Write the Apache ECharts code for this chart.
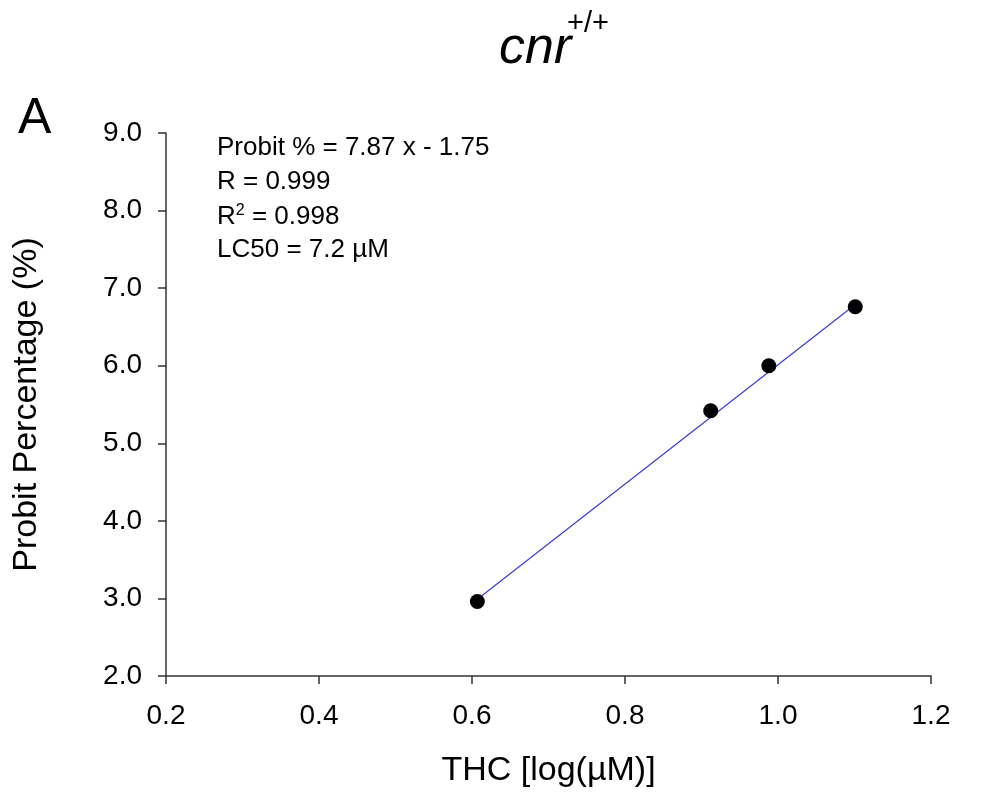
<!DOCTYPE html>
<html>
<head>
<meta charset="utf-8">
<script src="https://cdn.jsdelivr.net/npm/echarts@6/dist/echarts.min.js"></script>
<style>
html,body{margin:0;padding:0;background:#fff;}
#chart{width:984px;height:794px;}
</style>
</head>
<body>
<div id="chart"></div>
<script>
// Data
var thcLog = [0.607, 0.912, 0.988, 1.101];
var probit = [2.96, 5.42, 6.00, 6.76];
var fitX = [0.607, 1.101];
var fitY = [2.99, 6.79];
var xTicks = [0.2, 0.4, 0.6, 0.8, 1.0, 1.2];
var yTicks = [2.0, 3.0, 4.0, 5.0, 6.0, 7.0, 8.0, 9.0];
var annotations = ['Probit % = 7.87 x - 1.75', 'R = 0.999', 'R2 = 0.998', 'LC50 = 7.2 µM'];

var FONT = '"Liberation Sans", Arial, Helvetica, sans-serif';
var chart = echarts.init(document.getElementById('chart'));

var annoGraphics = annotations.map(function (t, i) {
  var txt;
  if (t.indexOf('R2') === 0) {
    txt = '{n|R}{s|2}{n|' + t.slice(2) + '}';
  } else {
    txt = '{n|' + t + '}';
  }
  return {
    type: 'text', left: 217, top: 135 + i * 34,
    style: {
      text: txt, fill: '#000', font: '26px ' + FONT,
      rich: {
        n: { fontSize: 26, fontFamily: FONT, fill: '#000', height: 29 },
        s: { fontSize: 16, fontFamily: FONT, fill: '#000', verticalAlign: 'top', padding: [0, 0, 12, 0], height: 29 }
      }
    }
  };
});

var option = {
  backgroundColor: '#fff',
  animation: false,
  grid: { left: 166, right: 53, top: 133, bottom: 118, containLabel: false, outerBoundsMode: 'none' },
  xAxis: {
    type: 'value', min: 0.2, max: 1.2, interval: 0.2,
    name: 'THC [log(µM)]', nameLocation: 'middle', nameGap: 78,
    nameTextStyle: { fontSize: 34, fontFamily: FONT, color: '#000' },
    axisLine: { show: true, onZero: false, lineStyle: { color: '#333', width: 1.5 } },
    axisTick: { show: true, inside: false, length: 8, lineStyle: { color: '#333', width: 1.5 } },
    axisLabel: { fontSize: 28, fontFamily: FONT, color: '#000', margin: 26,
      formatter: function (v) { return (Math.round(v * 10) / 10).toFixed(1); } },
    splitLine: { show: false }
  },
  yAxis: {
    type: 'value', min: 2, max: 9, interval: 1,
    name: 'Probit Percentage (%)', nameLocation: 'middle', nameGap: 122,
    nameTextStyle: { fontSize: 34, fontFamily: FONT, color: '#000' },
    axisLine: { show: true, onZero: false, lineStyle: { color: '#333', width: 1.5 } },
    axisTick: { show: true, inside: false, length: 8, lineStyle: { color: '#333', width: 1.5 } },
    axisLabel: { fontSize: 28, fontFamily: FONT, color: '#000', margin: 24,
      formatter: function (v) { return v.toFixed(1); } },
    splitLine: { show: false }
  },
  series: [
    {
      type: 'line', data: fitX.map(function (x, i) { return [x, fitY[i]]; }),
      showSymbol: false, symbol: 'none',
      lineStyle: { color: '#3b3bd6', width: 1.2 }, z: 2
    },
    {
      type: 'scatter', data: thcLog.map(function (x, i) { return [x, probit[i]]; }),
      symbol: 'circle', symbolSize: 15,
      itemStyle: { color: '#000', opacity: 1 }, z: 3
    }
  ],
  graphic: [
    { type: 'text', left: 499, top: 23,
      style: { text: 'cnr', font: 'italic 52px ' + FONT, fill: '#000' } },
    { type: 'text', left: 567, top: 9,
      style: { text: '+/+', font: '29px ' + FONT, fill: '#000' } },
    { type: 'text', left: 18, top: 94,
      style: { text: 'A', font: '50px ' + FONT, fill: '#000' } }
  ].concat(annoGraphics)
};
chart.setOption(option);
</script>
</body>
</html>
